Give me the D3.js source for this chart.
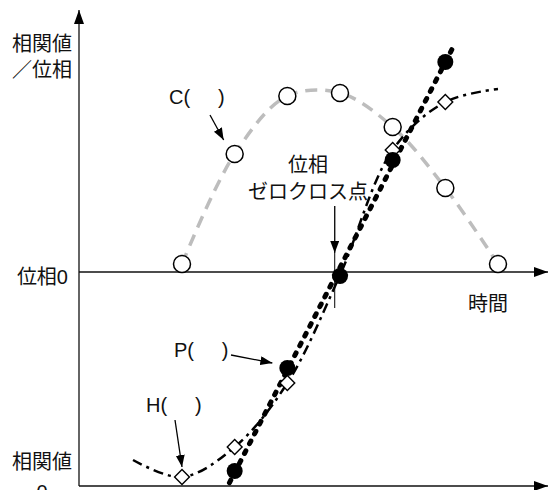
<!DOCTYPE html>
<html>
<head>
<meta charset="utf-8">
<title>位相ゼロクロス</title>
<script src="https://cdnjs.cloudflare.com/ajax/libs/d3/7.8.5/d3.min.js"></script>
<style>
  body { margin: 0; background: #fff; }
  svg { display: block; }
  text { font-family: "Liberation Sans", "Noto Sans CJK JP", sans-serif; font-size: 20px; fill: #111; }
</style>
</head>
<body>
<svg id="chart" width="550" height="490"></svg>
<script>
// 時間 (index) and each series
const times = [0, 1, 2, 3, 4, 5, 6];
const cValues = [0.04, 0.59, 0.88, 0.895, 0.725, 0.42, 0.04];   // C( ) 相関値

const pTimes = [1, 2, 3, 4, 5];
const pValues = [-0.995, -0.48, -0.02, 0.56, 1.05];             // P( ) 位相
const pLineSpan = [0.9, 5.18];                                   // fitted line drawn over this time range

const hTimes = [-0.93, 0, 1, 2, 3, 4, 5, 6];
const hValues = [-0.94, -1.025, -0.875, -0.555, -0.015, 0.61, 0.85, 0.915]; // H( )
const hMarked = [false, true, true, true, true, true, true, false];

const zeroCrossT = 2.9;

const svg = d3.select('#chart');
const x = d3.scaleLinear().domain([0, 6]).range([182, 498]);
const y = d3.scaleLinear().domain([0, 1]).range([272, 72]);

const axisLeft = 79, axisRight = 548, axisTop = 10, axisBottom = 486;

// arrow heads
const defs = svg.append('defs');
defs.append('marker').attr('id', 'bigArrow')
  .attr('markerUnits', 'userSpaceOnUse')
  .attr('markerWidth', 15).attr('markerHeight', 11)
  .attr('refX', 14).attr('refY', 5).attr('orient', 'auto')
  .append('path').attr('d', 'M0,0 L14,5 L0,10 Z').attr('fill', '#000');
defs.append('marker').attr('id', 'smallArrow')
  .attr('markerUnits', 'userSpaceOnUse')
  .attr('markerWidth', 13).attr('markerHeight', 10)
  .attr('refX', 12).attr('refY', 4.5).attr('orient', 'auto')
  .append('path').attr('d', 'M0,0 L12,4.5 L0,9 Z').attr('fill', '#000');

// axes
const axes = svg.append('g').attr('stroke', '#111').attr('stroke-width', 1.3);
axes.append('line')
  .attr('x1', axisLeft).attr('y1', axisBottom).attr('x2', axisLeft).attr('y2', axisTop)
  .attr('marker-end', 'url(#bigArrow)');
axes.append('line')
  .attr('x1', axisLeft).attr('y1', y(0)).attr('x2', axisRight).attr('y2', y(0))
  .attr('marker-end', 'url(#bigArrow)');
axes.append('line')
  .attr('x1', axisLeft).attr('y1', axisBottom).attr('x2', axisRight).attr('y2', axisBottom)
  .attr('marker-end', 'url(#bigArrow)');

// C( ) gray dashed curve
const cLine = d3.line().x(d => x(d[0])).y(d => y(d[1])).curve(d3.curveCatmullRom);
svg.append('path')
  .attr('d', cLine(times.map((t, i) => [t, cValues[i]])))
  .attr('fill', 'none').attr('stroke', '#bdbdbd').attr('stroke-width', 3.5)
  .attr('stroke-dasharray', '12,8');

svg.append('g').selectAll('circle')
  .data(times.map((t, i) => [t, cValues[i]]))
  .join('circle')
  .attr('cx', d => x(d[0])).attr('cy', d => y(d[1])).attr('r', 8.5)
  .attr('fill', '#fff').attr('stroke', '#000').attr('stroke-width', 1.5);

// H( ) dash-dot curve
const hPts = hTimes.map((t, i) => [t, hValues[i]]);
svg.append('path')
  .attr('d', cLine(hPts))
  .attr('fill', 'none').attr('stroke', '#000').attr('stroke-width', 2.5)
  .attr('stroke-dasharray', '10,5,3,5');

// P( ) fitted straight line (least squares through the P points)
const mt = d3.mean(pTimes), mv = d3.mean(pValues);
const slope = d3.sum(pTimes, (t, i) => (t - mt) * (pValues[i] - mv)) / d3.sum(pTimes, t => (t - mt) ** 2);
const fit = t => mv + slope * (t - mt);
svg.append('path')
  .attr('d', d3.line().x(d => x(d)).y(d => y(fit(d)))(pLineSpan))
  .attr('fill', 'none').attr('stroke', '#000').attr('stroke-width', 5)
  .attr('stroke-linecap', 'round').attr('stroke-dasharray', '3,8');

// H diamonds
svg.append('g').selectAll('path')
  .data(hPts.filter((d, i) => hMarked[i]))
  .join('path')
  .attr('d', d3.symbol(d3.symbolSquare, 110)())
  .attr('transform', d => `translate(${x(d[0])},${y(d[1])}) rotate(45)`)
  .attr('fill', '#fff').attr('stroke', '#000').attr('stroke-width', 1.4);

// P filled dots
svg.append('g').selectAll('circle')
  .data(pTimes.map((t, i) => [t, pValues[i]]))
  .join('circle')
  .attr('cx', d => x(d[0])).attr('cy', d => y(d[1])).attr('r', 8)
  .attr('fill', '#000');

// zero-cross marker
const zx = x(zeroCrossT);
svg.append('line')
  .attr('x1', zx).attr('y1', 206).attr('x2', zx).attr('y2', 253)
  .attr('stroke', '#000').attr('stroke-width', 1.3).attr('marker-end', 'url(#smallArrow)');
svg.append('line')
  .attr('x1', zx).attr('y1', 253).attr('x2', zx).attr('y2', 308)
  .attr('stroke', '#000').attr('stroke-width', 1);

// series label arrows
const arrows = [
  { from: [210, 115], to: [x(1) - 11, y(cValues[1]) - 14] },
  { from: [231, 355], to: [x(2) - 15, y(pValues[1]) - 5] },
  { from: [175, 420], to: [x(0), y(hValues[1]) - 10] }
];
svg.append('g').selectAll('line')
  .data(arrows)
  .join('line')
  .attr('x1', d => d.from[0]).attr('y1', d => d.from[1])
  .attr('x2', d => d.to[0]).attr('y2', d => d.to[1])
  .attr('stroke', '#000').attr('stroke-width', 1.3).attr('marker-end', 'url(#smallArrow)');

// texts
const labels = [
  { t: '相関値', x: 72, y: 44, a: 'end' },
  { t: '／位相', x: 72, y: 70, a: 'end' },
  { t: '位相0', x: 68, y: 277, a: 'end' },
  { t: '時間', x: 488, y: 304, a: 'middle' },
  { t: '相関値', x: 72, y: 462, a: 'end' },
  { t: '0', x: 42, y: 492, a: 'middle' },
  { t: '位相', x: 308, y: 165, a: 'middle' },
  { t: 'ゼロクロス点', x: 308, y: 192, a: 'middle' },
  { t: 'C(     )', x: 169, y: 97, a: 'start' },
  { t: 'P(     )', x: 174, y: 350, a: 'start' },
  { t: 'H(     )', x: 146, y: 405, a: 'start' }
];
svg.append('g').selectAll('text')
  .data(labels)
  .join('text')
  .attr('x', d => d.x).attr('y', d => d.y)
  .attr('text-anchor', d => d.a)
  .attr('dominant-baseline', 'central')
  .style('white-space', 'pre')
  .text(d => d.t);
</script>
</body>
</html>
